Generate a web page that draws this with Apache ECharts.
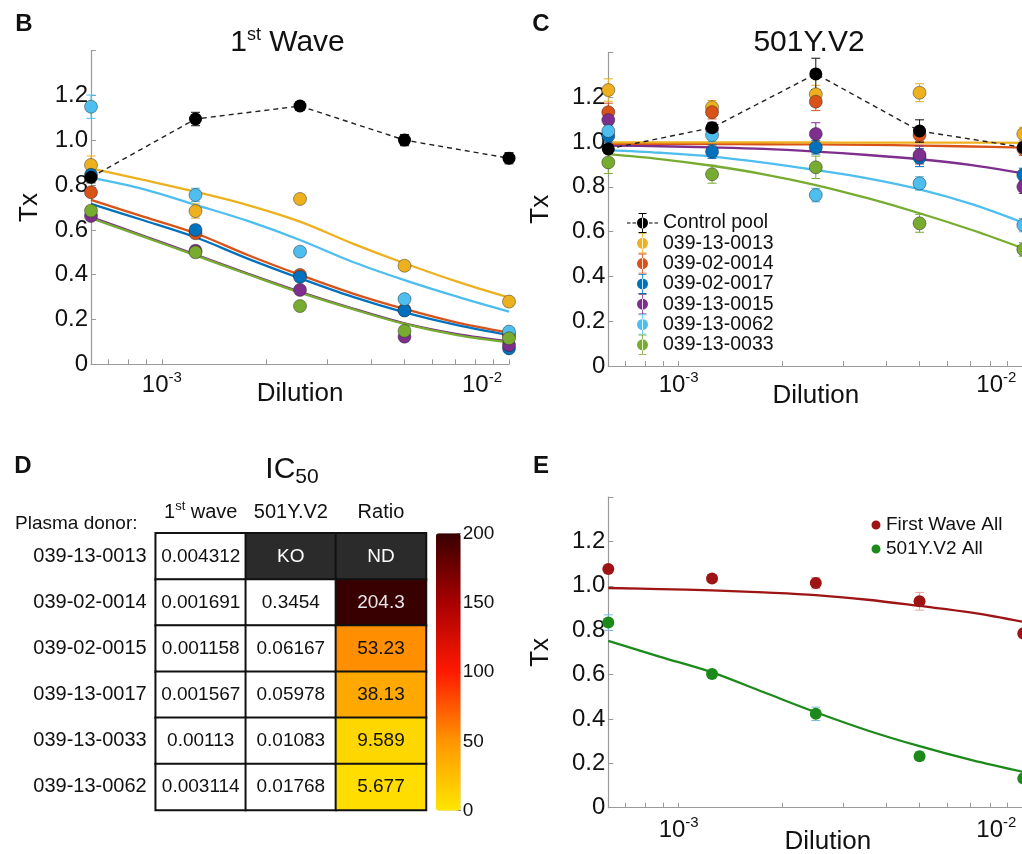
<!DOCTYPE html>
<html><head><meta charset="utf-8">
<script src="https://cdn.jsdelivr.net/npm/echarts@6/dist/echarts.min.js"></script>
<style>html,body{margin:0;padding:0;background:#fff}#c{width:1022px;height:854px}</style>
</head><body><div id="c"></div>
<script>
// ---------------- DATA ----------------
const dilutions = [1/1600, 1/800, 1/400, 1/200, 1/100];
const fitDilutions = [1/1600, 1/1131, 1/800, 1/566, 1/400, 1/283, 1/200, 1/141, 1/100];
const xMajorTicks = [1e-3, 1e-2];
const xMinorTicks = [7e-4, 8e-4, 9e-4, 1e-3, 2e-3, 3e-3, 4e-3, 5e-3, 6e-3, 7e-3, 8e-3, 9e-3, 1e-2];
const donors = ['039-13-0013', '039-02-0014', '039-02-0017', '039-13-0015', '039-13-0062', '039-13-0033'];
const donorColors = ['#EDB120', '#D95319', '#0072BD', '#7E2F8E', '#4DBEEE', '#77AC30'];

// Panel B - 1st wave
const controlB = [0.835, 1.095, 1.153, 1.001, 0.920];
const controlBErr = [0.025, 0.03, 0.02, 0.025, 0.025];
const ptsB_0013 = [0.890, 0.684, 0.738, 0.440, 0.280];
const ptsB_0014 = [0.768, 0.585, 0.399, 0.243, 0.130];
const ptsB_0017 = [0.846, 0.600, 0.390, 0.240, 0.071];
const ptsB_0015 = [0.662, 0.507, 0.332, 0.123, 0.086];
const ptsB_0062 = [1.150, 0.756, 0.503, 0.291, 0.146];
const ptsB_0033 = [0.686, 0.500, 0.260, 0.149, 0.116];
const errB_0013 = [0.04, 0.032, 0.02, 0.02, 0.015];
const errB_0014 = [0.02, 0.02, 0.015, 0.015, 0.01];
const errB_0017 = [0.02, 0.02, 0.015, 0.015, 0.01];
const errB_0015 = [0.015, 0.02, 0.015, 0.015, 0.01];
const errB_0062 = [0.052, 0.03, 0.015, 0.02, 0.015];
const errB_0033 = [0.02, 0.02, 0.015, 0.015, 0.01];
const fitB_0013 = [0.875, 0.823, 0.770, 0.711, 0.637, 0.540, 0.451, 0.369, 0.298];
const fitB_0014 = [0.734, 0.659, 0.585, 0.488, 0.399, 0.317, 0.247, 0.186, 0.141];
const fitB_0017 = [0.716, 0.643, 0.567, 0.472, 0.384, 0.302, 0.232, 0.175, 0.131];
const fitB_0015 = [0.657, 0.574, 0.490, 0.405, 0.324, 0.250, 0.183, 0.135, 0.103];
const fitB_0062 = [0.833, 0.782, 0.712, 0.640, 0.555, 0.458, 0.376, 0.302, 0.235];
const fitB_0033 = [0.652, 0.570, 0.486, 0.402, 0.320, 0.247, 0.180, 0.130, 0.098];

// Panel C - 501Y.V2
const controlC = [0.969, 1.064, 1.304, 1.049, 0.976];
const controlCErr = [0.02, 0.02, 0.07, 0.05, 0.02];
const ptsC_0013 = [1.232, 1.155, 1.213, 1.220, 1.036];
const ptsC_0014 = [1.133, 1.133, 1.180, 1.031, 0.970];
const ptsC_0017 = [1.027, 0.957, 0.976, 0.930, 0.853];
const ptsC_0015 = [1.098, 1.058, 1.036, 0.942, 0.800];
const ptsC_0062 = [1.049, 1.031, 0.763, 0.815, 0.629];
const ptsC_0033 = [0.909, 0.856, 0.887, 0.637, 0.520];
const errC_0013 = [0.05, 0.03, 0.04, 0.04, 0.03];
const errC_0014 = [0.04, 0.03, 0.04, 0.03, 0.03];
const errC_0017 = [0.03, 0.03, 0.03, 0.04, 0.03];
const errC_0015 = [0.03, 0.03, 0.05, 0.04, 0.03];
const errC_0062 = [0.03, 0.03, 0.03, 0.03, 0.03];
const errC_0033 = [0.05, 0.04, 0.05, 0.04, 0.03];
const fitC_0013 = [0.998, 0.998, 0.998, 0.998, 0.998, 0.997, 0.997, 0.997, 0.996];
const fitC_0014 = [0.992, 0.992, 0.991, 0.990, 0.989, 0.987, 0.984, 0.980, 0.975];
const fitC_0015 = [0.984, 0.981, 0.976, 0.969, 0.957, 0.942, 0.923, 0.897, 0.860];
const fitC_0062 = [0.964, 0.952, 0.935, 0.908, 0.875, 0.838, 0.789, 0.723, 0.640];
const fitC_0033 = [0.946, 0.924, 0.894, 0.856, 0.808, 0.749, 0.682, 0.607, 0.525];

// Panel E - pooled
const allNames = ['First Wave All', '501Y.V2 All'];
const allColors = ['#9E1414', '#1B8A1B'];
const allErrColors = ['#E8A3A3', '#7DB9E3'];
const ptsE_first = [1.076, 1.033, 1.012, 0.930, 0.785];
const ptsE_v2 = [0.834, 0.602, 0.423, 0.232, 0.132];
const errE_first = [0.015, 0.015, 0.025, 0.04, 0.02];
const errE_v2 = [0.035, 0.015, 0.03, 0.02, 0.015];
const fitE_first = [0.990, 0.985, 0.979, 0.970, 0.958, 0.937, 0.909, 0.879, 0.837];
const fitE_v2 = [0.752, 0.680, 0.610, 0.520, 0.430, 0.348, 0.277, 0.214, 0.161];

// Panel D - IC50 table
const tableDonors = ['039-13-0013', '039-02-0014', '039-02-0015', '039-13-0017', '039-13-0033', '039-13-0062'];
const tableColumns = ['1st wave', '501Y.V2', 'Ratio'];
const ic50First = [0.004312, 0.001691, 0.001158, 0.001567, 0.00113, 0.003114];
const ic50V2 = [null, 0.3454, 0.06167, 0.05978, 0.01083, 0.01768];
const ic50Ratio = [null, 204.3, 53.23, 38.13, 9.589, 5.677];
const missingV2Label = 'KO';
const missingRatioLabel = 'ND';
const colorbarTicks = [0, 50, 100, 150, 200];

// ---------------- BUILD ----------------
const FONT = 'Liberation Sans, Arial, Helvetica, sans-serif';
const TXT = '#111';
const AX = '#9a9a9a';
const L10 = v => Math.log10(v);
const xMin = L10(dilutions[0]);
const xMax = L10(dilutions[dilutions.length - 1]);

function dilAxis(gridIndex, labelMargin, nameGap, namePad) {
  return {
    type: 'value', gridIndex, min: xMin, max: xMax,
    axisLine: {show: true, lineStyle: {color: AX, width: 1.2}},
    axisTick: {show: true, inside: true, length: 5, lineStyle: {color: AX, width: 1}, customValues: xMinorTicks.map(L10)},
    axisLabel: {
      customValues: xMajorTicks.map(L10), margin: labelMargin,
      formatter: v => { const e = Math.round(v); return e === -2 ? '{b|10}{s|' + e + '}{p| }' : '{b|10}{s|' + e + '}'; },
      rich: {
        b: {fontSize: 24, lineHeight: 30, color: TXT, fontFamily: FONT},
        s: {fontSize: 15, lineHeight: 15, verticalAlign: 'top', color: TXT, fontFamily: FONT},
        p: {width: 54, fontSize: 10}
      }
    },
    splitLine: {show: false},
    name: 'Dilution', nameLocation: 'middle', nameGap, nameMoveOverlap: false,
    nameTextStyle: {fontSize: 26, color: TXT, fontFamily: FONT, padding: namePad}
  };
}
function txAxis(gridIndex, nameGap) {
  return {
    type: 'value', gridIndex, min: 0, max: 1.4, interval: 0.2,
    axisLine: {show: true, lineStyle: {color: AX, width: 1.2}},
    axisTick: {show: true, inside: true, length: 5, lineStyle: {color: AX}},
    axisLabel: {margin: 3, fontSize: 24, color: TXT, fontFamily: FONT,
      formatter: v => Math.abs(v - 1.4) < 1e-6 ? '' : (v === 0 ? '0' : v.toFixed(1))},
    splitLine: {show: false},
    name: 'Tx', nameLocation: 'middle', nameRotate: 90, nameGap, nameMoveOverlap: false,
    nameTextStyle: {fontSize: 26, color: TXT, fontFamily: FONT}
  };
}

function errRender(params, api) {
  const x = api.value(0), lo = api.value(1), hi = api.value(2);
  const p0 = api.coord([x, lo]), p1 = api.coord([x, hi]);
  const w = 4.5;
  const style = {stroke: api.visual('color'), lineWidth: 1};
  return {type: 'group', children: [
    {type: 'line', shape: {x1: p0[0], y1: p0[1], x2: p1[0], y2: p1[1]}, style},
    {type: 'line', shape: {x1: p0[0] - w, y1: p0[1], x2: p0[0] + w, y2: p0[1]}, style},
    {type: 'line', shape: {x1: p1[0] - w, y1: p1[1], x2: p1[0] + w, y2: p1[1]}, style}
  ]};
}
function fitSeries(ai, vals, color) {
  return {type: 'line', name: 'fit' + ai + color, xAxisIndex: ai, yAxisIndex: ai,
    data: fitDilutions.map((d, i) => [L10(d), vals[i]]), smooth: 0.35, symbol: 'none',
    lineStyle: {color, width: 2.3}, z: 2, silent: true, clip: false};
}
function errSeries(ai, vals, errs, color) {
  return {type: 'custom', name: 'err' + ai + color, xAxisIndex: ai, yAxisIndex: ai,
    data: dilutions.map((d, i) => [L10(d), vals[i] - errs[i], vals[i] + errs[i]]),
    renderItem: errRender, itemStyle: {color}, z: 3, silent: true, clip: false};
}
function ptSeries(ai, name, vals, color, size) {
  return {type: 'scatter', name, xAxisIndex: ai, yAxisIndex: ai,
    data: dilutions.map((d, i) => [L10(d), vals[i]]), symbolSize: size,
    itemStyle: {color, borderColor: 'rgba(30,30,30,0.55)', borderWidth: 0.8, opacity: 1},
    z: 4, silent: true, clip: false};
}
function controlSeries(ai, vals) {
  return {type: 'line', name: 'Control pool', xAxisIndex: ai, yAxisIndex: ai,
    data: dilutions.map((d, i) => [L10(d), vals[i]]), symbol: 'circle', symbolSize: 13,
    itemStyle: {color: '#000'}, lineStyle: {color: '#222', width: 1.4, type: [5, 4]},
    z: 6, silent: true, clip: false};
}

const series = [];
// Panel B (axis 0)
const ptsB = [ptsB_0013, ptsB_0014, ptsB_0017, ptsB_0015, ptsB_0062, ptsB_0033];
const errB = [errB_0013, errB_0014, errB_0017, errB_0015, errB_0062, errB_0033];
const fitB = [fitB_0013, fitB_0014, fitB_0017, fitB_0015, fitB_0062, fitB_0033];
const orderB = [0, 4, 1, 2, 3, 5];
orderB.forEach(k => series.push(fitSeries(0, fitB[k], donorColors[k])));
donors.forEach((n, k) => series.push(errSeries(0, ptsB[k], errB[k], donorColors[k])));
donors.forEach((n, k) => series.push(ptSeries(0, n, ptsB[k], donorColors[k], 13)));
series.push(errSeries(0, controlB, controlBErr, '#111'));
series.push(controlSeries(0, controlB));

// Panel C (axis 1)
const ptsC = [ptsC_0013, ptsC_0014, ptsC_0017, ptsC_0015, ptsC_0062, ptsC_0033];
const errC = [errC_0013, errC_0014, errC_0017, errC_0015, errC_0062, errC_0033];
[[fitC_0033, 5], [fitC_0062, 4], [fitC_0015, 3], [fitC_0014, 1], [fitC_0013, 0]]
  .forEach(([v, k]) => series.push(fitSeries(1, v, donorColors[k])));
donors.forEach((n, k) => series.push(errSeries(1, ptsC[k], errC[k], donorColors[k])));
donors.forEach((n, k) => series.push(ptSeries(1, n, ptsC[k], donorColors[k], 13)));
series.push(errSeries(1, controlC, controlCErr, '#111'));
series.push(controlSeries(1, controlC));

// Panel E (axis 2)
series.push(fitSeries(2, fitE_first, allColors[0]));
series.push(fitSeries(2, fitE_v2, allColors[1]));
series.push(errSeries(2, ptsE_first, errE_first, allErrColors[0]));
series.push(errSeries(2, ptsE_v2, errE_v2, allErrColors[1]));
series.push(ptSeries(2, allNames[0], ptsE_first, allColors[0], 12));
series.push(ptSeries(2, allNames[1], ptsE_v2, allColors[1], 12));
series[series.length - 1].itemStyle.borderWidth = 0;
series[series.length - 2].itemStyle.borderWidth = 0;

// Panel D table (axis 3)
const cellData = [];
tableDonors.forEach((d, r) => {
  cellData.push({value: [0, r, ic50First[r]], txt: String(ic50First[r])});
  if (ic50V2[r] === null) {
    cellData.push({value: [1, r, 0], txt: missingV2Label, itemStyle: {color: '#2b2b2b'}, label: {color: '#fff'}});
  } else {
    cellData.push({value: [1, r, ic50V2[r]], txt: String(ic50V2[r])});
  }
  if (ic50Ratio[r] === null) {
    cellData.push({value: [2, r, 0], txt: missingRatioLabel, itemStyle: {color: '#2b2b2b'}, label: {color: '#fff'}});
  }
});
series.push({type: 'heatmap', name: 'cells', xAxisIndex: 3, yAxisIndex: 3, data: cellData,
  itemStyle: {color: '#fff', borderColor: '#111', borderWidth: 2},
  label: {show: true, fontSize: 19, color: TXT, fontFamily: FONT, formatter: p => p.data.txt},
  silent: true, emphasis: {disabled: true}});
const ratioData = [];
tableDonors.forEach((d, r) => {
  if (ic50Ratio[r] !== null) ratioData.push({value: [2, r, ic50Ratio[r]], label: ic50Ratio[r] > 150 ? {color: '#e6e6e6'} : undefined});
});
series.push({type: 'heatmap', name: 'ratio', xAxisIndex: 3, yAxisIndex: 3, data: ratioData,
  itemStyle: {borderColor: '#111', borderWidth: 2},
  label: {show: true, fontSize: 19, color: TXT, fontFamily: FONT, formatter: p => String(p.value[2])},
  silent: true, emphasis: {disabled: true}});
const ratioIdx = series.length - 1;

const legendIconControl = 'path://M0,0h0.01v0.01h-0.01zM30.99,19.99h0.01v0.01h-0.01zM0,9.4h3.5v1.2h-3.5zM5.5,9.4h3.5v1.2h-3.5zM22,9.4h3.5v1.2h-3.5zM27.5,9.4h3.5v1.2h-3.5zM15.1,0h0.9v20h-0.9zM11.5,0h8v1h-8zM11.5,19h8v1h-8zM10,10a5.5,5.5 0 1,0 11,0a5.5,5.5 0 1,0 -11,0z';
const legendIconC = 'path://M0,0h0.01v0.01h-0.01zM30.99,19.99h0.01v0.01h-0.01zM15.1,0h0.8v20h-0.8zM11.5,0h8v0.8h-8zM11.5,19.2h8v0.8h-8zM10,10a5.5,5.5 0 1,0 11,0a5.5,5.5 0 1,0 -11,0z';
const legendIconE = 'path://M0,0h0.01v0.01h-0.01zM9.99,19.99h0.01v0.01h-0.01zM0.5,10a4.5,4.5 0 1,0 9,0a4.5,4.5 0 1,0 -9,0z';

function txt(x, y, text, size, opts) {
  return Object.assign({type: 'text', x, y, silent: true,
    style: Object.assign({text, fontSize: size, fontFamily: FONT, fill: TXT, align: 'center', verticalAlign: 'middle'}, opts || {})});
}

const gridBase = {outerBoundsMode: 'none', containLabel: false};
const option = {
  animation: false,
  textStyle: {fontFamily: FONT},
  grid: [
    Object.assign({left: 91, top: 50.7, width: 418, height: 313.6}, gridBase),
    Object.assign({left: 608.3, top: 52.4, width: 415, height: 313.6}, gridBase),
    Object.assign({left: 608.3, top: 497, width: 415, height: 310.7}, gridBase),
    Object.assign({left: 155.7, top: 533.3, width: 270.3, height: 276.7}, gridBase),
    Object.assign({left: 436, top: 533.3, width: 24.7, height: 277.4}, gridBase)
  ],
  xAxis: [
    dilAxis(0, 6, 17, [0, 0, 0, 0]),
    dilAxis(1, 4, 17, [0, 0, 0, 0]),
    dilAxis(2, 8, 21, [0, 0, 0, 24]),
    {type: 'category', gridIndex: 3, data: tableColumns, position: 'top',
      axisLine: {show: false}, axisTick: {show: false}, splitLine: {show: false},
      axisLabel: {margin: 9, interval: 0, color: TXT,
        formatter: v => v === '1st wave' ? '{n|1}{s|st}{n| wave}' : '{n|' + v + '}',
        rich: {n: {fontSize: 20, lineHeight: 24, color: TXT, fontFamily: FONT},
               s: {fontSize: 13, lineHeight: 13, verticalAlign: 'top', color: TXT, fontFamily: FONT}}}},
    {type: 'category', gridIndex: 4, data: ['cb'], show: false}
  ],
  yAxis: [
    txAxis(0, 48),
    txAxis(1, 54),
    txAxis(2, 54),
    {type: 'category', gridIndex: 3, data: tableDonors, inverse: true,
      axisLine: {show: false}, axisTick: {show: false}, splitLine: {show: false},
      axisLabel: {margin: 9, fontSize: 20, color: TXT, fontFamily: FONT}},
    {type: 'value', gridIndex: 4, min: colorbarTicks[0], max: colorbarTicks[colorbarTicks.length - 1], interval: 50,
      position: 'right', axisLine: {show: false}, splitLine: {show: false},
      axisTick: {show: true, inside: true, length: 4, lineStyle: {color: '#444'}},
      axisLabel: {margin: 2, fontSize: 19, color: TXT, fontFamily: FONT}}
  ],
  visualMap: [{
    type: 'continuous', seriesIndex: ratioIdx, min: 0, max: 200, calculable: false, hoverLink: false,
    left: 436, top: 533.3, itemWidth: 24.7, itemHeight: 277.4, padding: 0, text: null, showLabel: false,
    inRange: {color: ['#FFE600', '#FF9600', '#FF1A00', '#A80000', '#380000']}
  }],
  legend: [
    {left: 627, top: 213, padding: 0, orient: 'vertical', itemWidth: 31, itemHeight: 20, itemGap: 0.3,
      selectedMode: false, itemStyle: {borderWidth: 0},
      textStyle: {fontSize: 19.5, color: TXT, fontFamily: FONT, lineHeight: 20},
      data: [{name: 'Control pool', icon: legendIconControl}].concat(donors.map(n => ({name: n, icon: legendIconC})))},
    {left: 871, top: 515, padding: 0, orient: 'vertical', itemWidth: 10, itemHeight: 20, itemGap: 4,
      selectedMode: false, itemStyle: {borderWidth: 0},
      textStyle: {fontSize: 19, color: TXT, fontFamily: FONT, lineHeight: 20},
      data: allNames.map(n => ({name: n, icon: legendIconE}))}
  ],
  graphic: [
    txt(24, 24, 'B', 24, {fontWeight: 'bold'}),
    txt(541, 24, 'C', 24, {fontWeight: 'bold'}),
    txt(23, 466, 'D', 24, {fontWeight: 'bold'}),
    txt(541, 466, 'E', 24, {fontWeight: 'bold'}),
    txt(287.5, 43, '{a|1}{s|st}{a| Wave}', 30, {rich: {
      a: {fontSize: 30, lineHeight: 34, fontFamily: FONT, fill: TXT},
      s: {fontSize: 18, lineHeight: 18, verticalAlign: 'top', fontFamily: FONT, fill: TXT}}}),
    txt(809, 43, '501Y.V2', 30),
    txt(292, 470, '{a|IC}{b|50}', 30, {rich: {
      a: {fontSize: 30, lineHeight: 36, fontFamily: FONT, fill: TXT},
      b: {fontSize: 21, lineHeight: 21, verticalAlign: 'bottom', fontFamily: FONT, fill: TXT}}}),
    txt(15, 524, 'Plasma donor:', 19, {align: 'left'})
  ],
  series
};
const chart = echarts.init(document.getElementById('c'), null, {renderer: 'canvas'});
chart.setOption(option);
</script>
</body></html>
